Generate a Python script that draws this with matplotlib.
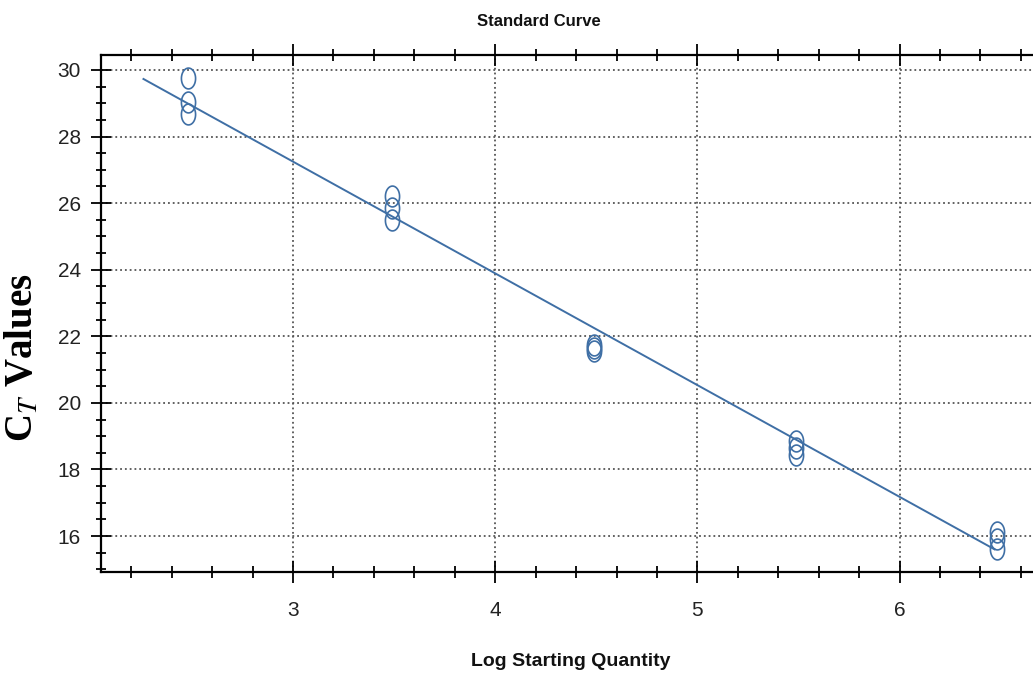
import numpy as np
import matplotlib
matplotlib.use("Agg")
import matplotlib.pyplot as plt
from matplotlib.path import Path
from matplotlib.ticker import MultipleLocator

# replicate Ct values
log_qty = [2.48, 2.48, 2.48,
           3.49, 3.49, 3.49,
           4.49, 4.49, 4.49,
           5.49, 5.49, 5.49,
           6.48, 6.48, 6.48]
ct_vals = [29.76, 29.04, 28.68,
           26.22, 25.86, 25.50,
           21.75, 21.65, 21.55,
           18.86, 18.65, 18.44,
           16.13, 15.90, 15.60]

# fitted line end points
fit_x = [2.26, 6.47]
fit_y = [29.73, 15.60]

blue = '#3f6fa5'
sans = ['Liberation Sans', 'DejaVu Sans']

# the original picture is squashed sideways, so markers are tall ellipses
t = np.linspace(0, 2 * np.pi, 60)
ellipse = Path(np.column_stack([0.68 * np.cos(t), np.sin(t)]), closed=True)

fig = plt.figure(figsize=(10.33, 6.82), dpi=100)
ax = fig.add_axes([101 / 1033, 1 - 572 / 682, 1 - 101 / 1033, (572 - 55) / 682])

ax.plot(fit_x, fit_y, color=blue, lw=1.4, zorder=3)
ax.plot(log_qty, ct_vals, ls='none', marker=ellipse, ms=15,
        mfc='none', mec=blue, mew=1.2, zorder=4)

ax.set_xlim(2.05, 6.66)
ax.set_ylim(14.92, 30.45)
ax.xaxis.set_major_locator(MultipleLocator(1))
ax.xaxis.set_minor_locator(MultipleLocator(0.2))
ax.yaxis.set_major_locator(MultipleLocator(2))
ax.yaxis.set_minor_locator(MultipleLocator(0.5))

ax.grid(True, which='major', ls=':', color='#555555', lw=1.3)
ax.spines['right'].set_visible(False)
for s in ['left', 'top', 'bottom']:
    ax.spines[s].set_linewidth(1.6)

ax.tick_params(which='both', direction='inout', top=True, right=False,
               width=1.3, color='black', labelcolor='#222222')
ax.tick_params(axis='x', which='major', length=16, pad=13)
ax.tick_params(axis='x', which='minor', length=8)
ax.tick_params(axis='y', which='major', length=15, pad=7)
ax.tick_params(axis='y', which='minor', length=7)

for lab in ax.get_xticklabels() + ax.get_yticklabels():
    lab.set_family(sans)
    lab.set_fontsize(15)

fig.text(539 / 1033, 1 - 22 / 682, 'Standard Curve', ha='center', va='center',
         family=sans, fontsize=12, fontweight='bold', color='#111111')
fig.text(571 / 1033, 1 - 662 / 682, 'Log Starting Quantity', ha='center', va='center',
         family=sans, fontsize=14, fontweight='bold', color='#111111')
fig.text(23 / 1033, 1 - 358 / 682, r'C$_{\mathit{T}}$ Values', ha='center', va='center',
         rotation=90, family='Liberation Serif', fontsize=28, fontweight='bold',
         math_fontfamily='stix')

fig.savefig('out.png', dpi=100)
